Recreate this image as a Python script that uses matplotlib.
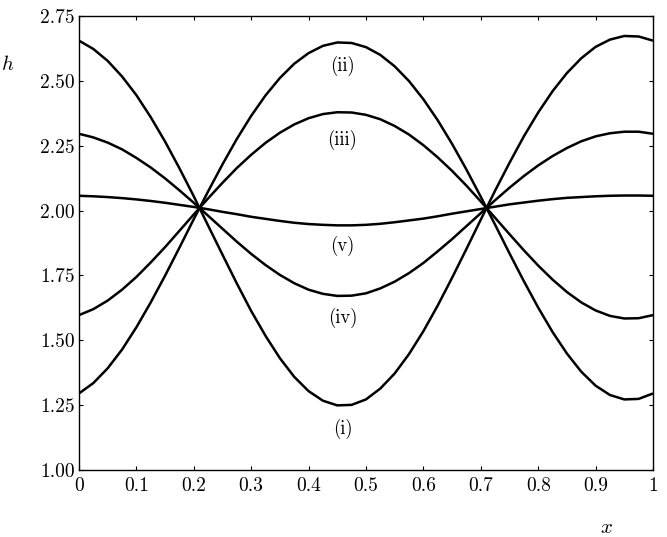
import matplotlib
matplotlib.use('Agg')
import matplotlib.pyplot as plt

plt.rcParams['font.family'] = 'serif'
plt.rcParams['font.serif'] = ['cmr10']
plt.rcParams['mathtext.fontset'] = 'cm'
plt.rcParams['axes.formatter.use_mathtext'] = True

# x positions (read every 0.025)
x = [0.0, 0.025, 0.05, 0.075, 0.1, 0.125, 0.15, 0.175, 0.2, 0.225,
     0.25, 0.275, 0.3, 0.325, 0.35, 0.375, 0.4, 0.425, 0.45, 0.475,
     0.5, 0.525, 0.55, 0.575, 0.6, 0.625, 0.65, 0.675, 0.7, 0.725,
     0.75, 0.775, 0.8, 0.825, 0.85, 0.875, 0.9, 0.925, 0.95, 0.975, 1.0]

# curve with the deep trough at x~0.46, label (i)
h_i = [2.655, 2.623, 2.577, 2.517, 2.445, 2.360, 2.266, 2.163, 2.055, 1.942,
       1.830, 1.719, 1.613, 1.517, 1.431, 1.359, 1.304, 1.267, 1.249, 1.251,
       1.272, 1.314, 1.372, 1.447, 1.535, 1.634, 1.741, 1.852, 1.965, 2.077,
       2.184, 2.286, 2.378, 2.460, 2.530, 2.587, 2.631, 2.659, 2.673, 2.671, 2.655]

# curve with the high crest at x~0.46, label (ii)
h_ii = [1.295, 1.335, 1.392, 1.464, 1.550, 1.646, 1.749, 1.857, 1.967, 2.074,
        2.178, 2.276, 2.365, 2.444, 2.511, 2.566, 2.607, 2.635, 2.648, 2.646,
        2.630, 2.600, 2.556, 2.499, 2.429, 2.348, 2.257, 2.158, 2.053, 1.945,
        1.835, 1.728, 1.626, 1.532, 1.449, 1.379, 1.325, 1.289, 1.272, 1.274, 1.295]

# label (iii)
h_iii = [1.597, 1.620, 1.653, 1.695, 1.744, 1.800, 1.859, 1.922, 1.985, 2.047,
         2.107, 2.164, 2.215, 2.261, 2.300, 2.332, 2.356, 2.372, 2.379, 2.378,
         2.369, 2.352, 2.326, 2.293, 2.252, 2.205, 2.153, 2.096, 2.035, 1.972,
         1.909, 1.847, 1.788, 1.734, 1.686, 1.646, 1.615, 1.594, 1.584, 1.585, 1.597]

# label (iv)
h_iv = [2.296, 2.282, 2.262, 2.236, 2.203, 2.166, 2.124, 2.078, 2.030, 1.980,
        1.930, 1.880, 1.833, 1.790, 1.752, 1.720, 1.695, 1.679, 1.671, 1.672,
        1.681, 1.700, 1.726, 1.759, 1.798, 1.843, 1.890, 1.940, 1.990, 2.040,
        2.088, 2.133, 2.174, 2.210, 2.241, 2.267, 2.286, 2.298, 2.304, 2.304, 2.296]

# label (v)
h_v = [2.057, 2.055, 2.052, 2.048, 2.043, 2.037, 2.030, 2.022, 2.014, 2.005,
       1.995, 1.986, 1.976, 1.968, 1.960, 1.953, 1.948, 1.945, 1.943, 1.943,
       1.945, 1.949, 1.955, 1.962, 1.969, 1.978, 1.988, 1.997, 2.006, 2.015,
       2.024, 2.031, 2.038, 2.044, 2.049, 2.052, 2.055, 2.057, 2.058, 2.058, 2.057]

curves = [h_i, h_ii, h_iii, h_iv, h_v]
labels = ['(i)', '(ii)', '(iii)', '(iv)', '(v)']
label_x = [0.459, 0.459, 0.459, 0.459, 0.459]
label_y = [1.160, 2.558, 2.273, 1.587, 1.863]

xticks = [0, 0.1, 0.2, 0.3, 0.4, 0.5, 0.6, 0.7, 0.8, 0.9, 1.0]
xticklabels = ['0', '0.1', '0.2', '0.3', '0.4', '0.5', '0.6', '0.7', '0.8', '0.9', '1']
yticks = [1.00, 1.25, 1.50, 1.75, 2.00, 2.25, 2.50, 2.75]
yticklabels = ['1.00', '1.25', '1.50', '1.75', '2.00', '2.25', '2.50', '2.75']

fig = plt.figure(figsize=(6.67, 5.37), dpi=100)
ax = fig.add_axes([0.1184, 0.1248, 0.8606, 0.8454])

for h in curves:
    ax.plot(x, h, color='black', linewidth=1.8,
            solid_joinstyle='round', solid_capstyle='butt')

for lab, lx, ly in zip(labels, label_x, label_y):
    ax.text(lx, ly, lab, ha='center', va='center', fontsize=13.5)

ax.set_xlim(0, 1)
ax.set_ylim(1.0, 2.75)
ax.set_xticks(xticks)
ax.set_xticklabels(xticklabels)
ax.set_yticks(yticks)
ax.set_yticklabels(yticklabels)
ax.tick_params(direction='in', top=True, right=True, length=3, width=0.8,
               labelsize=14)
ax.tick_params(axis='x', pad=5)
ax.tick_params(axis='y', pad=3)
for s in ax.spines.values():
    s.set_linewidth(1.0)

fig.text(8 / 667, 1 - 65 / 537, '$h$', fontsize=15, ha='center', va='center')
fig.text(606 / 667, 1 - 528 / 537, '$x$', fontsize=15, ha='center', va='center')

fig.savefig('out.png', dpi=100)
